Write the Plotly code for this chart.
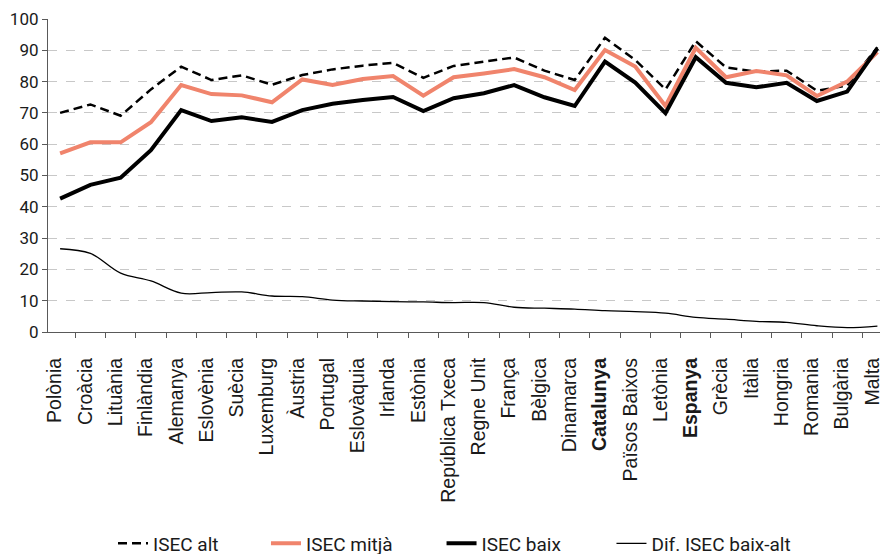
import plotly.graph_objects as go

categories = ["Polònia", "Croàcia", "Lituània", "Finlàndia", "Alemanya", "Eslovènia", "Suècia",
              "Luxemburg", "Àustria", "Portugal", "Eslovàquia", "Irlanda", "Estònia",
              "República Txeca", "Regne Unit", "França", "Bèlgica", "Dinamarca", "Catalunya",
              "Països Baixos", "Letònia", "Espanya", "Grècia", "Itàlia", "Hongria", "Romania",
              "Bulgària", "Malta"]
bold_categories = ["Catalunya", "Espanya"]

isec_alt = [70, 72.7, 69.1, 77.5, 84.8, 80.5, 82, 79, 82.1, 83.9, 85.1, 86, 81.2,
            85, 86.4, 87.7, 83.5, 80.5, 94, 86.9, 77.5, 92.9, 84.5, 83.2, 83.5, 77.1, 78.7, 91]
isec_mitja = [57.1, 60.6, 60.6, 67, 78.9, 76, 75.6, 73.4, 80.7, 78.9, 80.8, 81.8, 75.5,
              81.4, 82.6, 84, 81.4, 77.3, 90.1, 84.8, 72.2, 90.8, 81.4, 83.4, 82, 75.4, 80, 89.4]
isec_baix = [42.6, 47, 49.3, 58.1, 70.9, 67.4, 68.6, 67.1, 70.9, 72.9, 74.1, 75.1, 70.6,
             74.7, 76.3, 78.9, 75, 72.2, 86.4, 79.7, 69.9, 87.8, 79.6, 78.2, 79.6, 73.8, 76.8, 90.6]
dif = [26.6, 25.1, 18.8, 16.3, 12.4, 12.6, 12.8, 11.5, 11.3, 10.2, 9.9, 9.7, 9.6,
       9.4, 9.4, 7.9, 7.6, 7.3, 6.8, 6.5, 6.0, 4.7, 4.1, 3.4, 3.1, 2.0, 1.4, 1.9]

y_ticks = [0, 10, 20, 30, 40, 50, 60, 70, 80, 90, 100]

tick_text = [f"<b>{c}</b>" if c in bold_categories else c for c in categories]
FONT = "Roboto"
LABEL_FONT = "Liberation Sans"

fig = go.Figure()
fig.add_trace(go.Scatter(x=categories, y=isec_alt, mode="lines", name="ISEC alt", legend="legend",
                         line=dict(color="#000000", width=2.5, dash="9px,5px")))
fig.add_trace(go.Scatter(x=categories, y=isec_mitja, mode="lines", name="ISEC mitjà", legend="legend2",
                         line=dict(color="#F0846C", width=4)))
fig.add_trace(go.Scatter(x=categories, y=isec_baix, mode="lines", name="ISEC baix", legend="legend3",
                         line=dict(color="#000000", width=4)))
fig.add_trace(go.Scatter(x=categories, y=dif, mode="lines", name="Dif. ISEC baix-alt", legend="legend4",
                         line=dict(color="#000000", width=1.3, shape="spline", smoothing=1)))

legend_style = dict(orientation="h", xanchor="left", y=-0.615, yanchor="top",
                    font=dict(family=FONT, size=19, color="#1a1a1a"))

fig.update_layout(
    width=880, height=546,
    margin=dict(l=40, r=0, t=11, b=222, autoexpand=False),
    plot_bgcolor="white", paper_bgcolor="white",
    font=dict(family=FONT, size=17, color="#1a1a1a"),
    showlegend=True,
    legend=dict(x=0.0774, **legend_style),
    legend2=dict(x=0.2595, **legend_style),
    legend3=dict(x=0.4685, **legend_style),
    legend4=dict(x=0.6708, **legend_style),
    xaxis=dict(type="category", range=[-0.4, 27.35], categoryorder="array",
               categoryarray=categories, tickmode="array", tickvals=categories,
               ticktext=tick_text, tickangle=-90, showline=True, linecolor="#595959",
               linewidth=1.2, ticks="outside", ticklen=5, tickcolor="#595959",
               tickson="boundaries", showgrid=False, zeroline=False, automargin=False,
               ticklabelstandoff=17, ticklabelshift=-5,
               tickfont=dict(family=LABEL_FONT, size=19.5, color="#1a1a1a")),
    yaxis=dict(range=[0, 100], tickmode="array", tickvals=y_ticks, showline=True,
               linecolor="#595959", linewidth=1.2, ticks="outside", ticklen=5,
               tickcolor="#595959", showgrid=True, gridcolor="#C8C8C8", griddash="dash",
               gridwidth=1, zeroline=False, automargin=False,
               tickfont=dict(family=FONT, size=17, color="#1a1a1a")),
)

fig.write_html("out.html")
